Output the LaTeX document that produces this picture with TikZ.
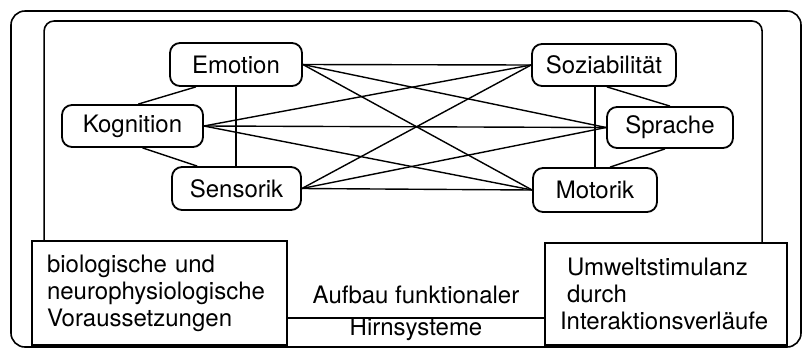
\documentclass[tikz,border=0pt]{standalone}
\usepackage{fontspec}
\setmainfont{TeX Gyre Heros}
\usetikzlibrary{calc}
\begin{document}
\begin{tikzpicture}[x=0.5pt,y=-0.5pt,
  every node/.style={font=\fontsize{12}{13.5}\selectfont},
  comp/.style={draw, line width=0.9pt, rounded corners=5pt, inner sep=0pt},
  basebox/.style={draw, line width=0.9pt, inner ysep=0pt, align=left},
  link/.style={line width=0.7pt},
  frame/.style={line width=0.8pt}]
\useasboundingbox (0,0) rectangle (803,349);
% outer frame
\draw[frame, rounded corners=7pt] (11,11) rectangle (801,347);
% components
\node[comp, minimum width=66pt, minimum height=21.5pt] (emo) at (236,64.5) {Emotion};
\node[comp, minimum width=70.5pt, minimum height=21pt] (kog) at (132.5,126) {Kognition};
\node[comp, minimum width=64.5pt, minimum height=21.5pt] (sen) at (236.5,188.5) {Sensorik};
\node[comp, minimum width=72pt, minimum height=21pt] (soz) at (604,65) {Soziabilität};
\node[comp, minimum width=63pt, minimum height=20.5pt] (spr) at (670,127.5) {Sprache};
\node[comp, minimum width=62pt, minimum height=22pt] (mot) at (595,190) {Motorik};
% cross links
\foreach \a in {emo,kog,sen}
  \foreach \b in {soz,spr,mot}
    \draw[link] (\a.east) -- (\b.west);
% left group
\draw[link] ($(emo.south west)!0.2!(emo.south east)$) -- ($(kog.north west)!0.54!(kog.north east)$);
\draw[link] (emo.south) -- (emo.south |- sen.north);
\draw[link] ($(kog.south west)!0.57!(kog.south east)$) -- ($(sen.north west)!0.2!(sen.north east)$);
% right group
\draw[link] ($(soz.south west)!0.52!(soz.south east)$) -- (spr.north);
\draw[link] (mot.north) -- (mot.north |- soz.south);
\draw[link] ($(spr.south west)!0.46!(spr.south east)$) -- ($(mot.north west)!0.62!(mot.north east)$);
% bottom boxes
\node[basebox, text width=112.5pt, inner xsep=7.5pt, minimum height=52pt] (bio) at (159.5,293)
  {biologische und\\neurophysiologische\\Voraussetzungen};
\node[basebox, text width=106pt, inner xsep=7.5pt, minimum height=51pt] (umw) at (666,294)
  {\leftskip=3.5pt Umweltstimulanz\\durch\\Interaktionsverläufe};
\coordinate (lk) at (416,318);
\draw[link] (bio.east |- lk) -- (umw.west |- lk)
  node[midway, anchor=base, yshift=7.5pt] {Aufbau funktionaler}
  node[midway, anchor=base, yshift=-8.5pt] {Hirnsysteme};
% inner frame
\coordinate (itop) at (400,21);
\draw[frame, rounded corners=5pt] ($(bio.north west)+(13,0)$) |- (itop) -| ($(umw.north west)+(218,0)$);
\end{tikzpicture}
\end{document}
